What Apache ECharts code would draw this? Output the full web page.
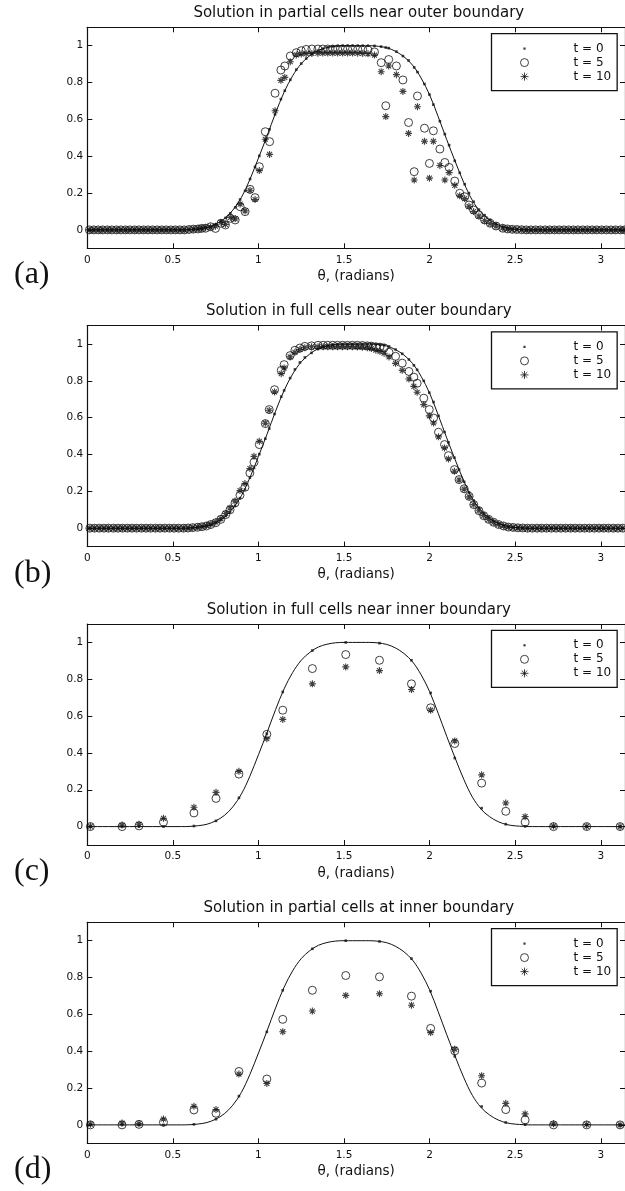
<!DOCTYPE html>
<html>
<head>
<meta charset="utf-8">
<script src="https://cdn.jsdelivr.net/npm/echarts@6/dist/echarts.min.js"></script>
<style>
  html, body { margin: 0; padding: 0; background: #fff; }
  #chart { width: 625px; height: 1191px; }
</style>
</head>
<body>
<div id="chart"></div>
<script>
// Panel headings and letters
const titles = [
  'Solution in partial cells near outer boundary',
  'Solution in full cells near outer boundary',
  'Solution in full cells near inner boundary',
  'Solution in partial cells at inner boundary'
];
const panelLetters = ['(a)', '(b)', '(c)', '(d)'];
const seriesNames = ['t = 0', 't = 5', 't = 10'];
const xTicks = [0, 0.5, 1, 1.5, 2, 2.5, 3];
const yTicks = [0, 0.2, 0.4, 0.6, 0.8, 1];
const xAxisTitle = 'θ, (radians)';

// Initial profile (solid curve)
const curveTheta = [0, 0.55, 0.60, 0.65, 0.70, 0.75, 0.80, 0.85, 0.90, 0.95, 1.00, 1.05, 1.10, 1.15, 1.20, 1.25, 1.30, 1.35, 1.40, 1.45, 1.50, 1.55, 1.60, 1.65, 1.70, 1.75, 1.80, 1.85, 1.90, 1.95, 2.00, 2.05, 2.10, 2.15, 2.20, 2.25, 2.30, 2.35, 2.40, 2.45, 2.50, 2.55, 2.60, 3.1416];
const curveValue = [0, 0, 0.001, 0.005, 0.013, 0.031, 0.06, 0.107, 0.176, 0.274, 0.39, 0.51, 0.635, 0.748, 0.837, 0.903, 0.946, 0.975, 0.99, 0.998, 1, 1, 1, 1, 0.997, 0.989, 0.97, 0.94, 0.895, 0.825, 0.733, 0.615, 0.49, 0.37, 0.256, 0.16, 0.095, 0.054, 0.027, 0.011, 0.004, 0.001, 0, 0];

// (a) partial cells near outer boundary
const thetaA = [
  0.012, 0.038, 0.064, 0.090, 0.117, 0.143, 0.170, 0.196, 0.223, 0.249, 0.276, 0.302, 0.329, 0.355, 0.382, 0.408, 0.435, 0.461, 0.488, 0.514, 0.541, 0.567, 0.594, 0.620, 0.647, 0.668,
  0.691, 0.720, 0.749, 0.781, 0.807, 0.836, 0.864, 0.893, 0.922, 0.951,
  0.980, 1.005, 1.040, 1.065, 1.097, 1.131, 1.154, 1.186, 1.221, 1.250,
  1.279, 1.312, 1.347, 1.376, 1.405, 1.434, 1.463, 1.492, 1.521, 1.550,
  1.580, 1.609, 1.640, 1.678, 1.717, 1.744, 1.761, 1.806, 1.844, 1.877,
  1.910, 1.929, 1.970, 1.999, 2.022, 2.060, 2.089, 2.114, 2.147, 2.176,
  2.205, 2.230, 2.257, 2.288, 2.321, 2.354, 2.388, 2.427, 2.455,
  2.483, 2.510, 2.538, 2.565, 2.592, 2.620, 2.647, 2.675, 2.702, 2.730, 2.757, 2.785, 2.812, 2.840, 2.867, 2.895, 2.922, 2.950, 2.977, 3.005, 3.032, 3.060, 3.087, 3.115, 3.140
];
const t0A = [
  0, 0, 0, 0, 0, 0, 0, 0, 0, 0, 0, 0, 0, 0, 0, 0, 0, 0, 0, 0, 0, 0, 0.001, 0.003, 0.005, 0.007,
  0.011, 0.018, 0.030, 0.047, 0.065, 0.090, 0.122, 0.165, 0.212, 0.276,
  0.342, 0.402, 0.486, 0.546, 0.627, 0.710, 0.756, 0.815, 0.870, 0.903,
  0.930, 0.954, 0.973, 0.984, 0.991, 0.996, 0.999, 1, 1, 1,
  1, 1, 1, 0.999, 0.995, 0.990, 0.987, 0.968, 0.944, 0.920,
  0.882, 0.857, 0.792, 0.735, 0.680, 0.590, 0.520, 0.460, 0.375, 0.310,
  0.248, 0.200, 0.153, 0.110, 0.080, 0.055, 0.033, 0.017, 0.010,
  0.005, 0.003, 0.001, 0, 0, 0, 0, 0, 0, 0, 0, 0, 0, 0, 0, 0, 0, 0, 0, 0, 0, 0, 0, 0, 0
];
const t5A = [
  0, 0, 0, 0, 0, 0, 0, 0, 0, 0, 0, 0, 0, 0, 0, 0, 0, 0, 0, 0, 0, 0, 0.002, 0.004, 0.005, 0.008,
  0.009, 0.017, 0.008, 0.036, 0.027, 0.063, 0.054, 0.126, 0.099, 0.220,
  0.175, 0.343, 0.533, 0.479, 0.742, 0.868, 0.890, 0.944, 0.962, 0.973,
  0.980, 0.982, 0.982, 0.982, 0.982, 0.982, 0.982, 0.982, 0.982, 0.982,
  0.981, 0.980, 0.977, 0.966, 0.908, 0.674, 0.925, 0.890, 0.814, 0.583,
  0.316, 0.727, 0.552, 0.361, 0.538, 0.439, 0.366, 0.339, 0.265, 0.199,
  0.180, 0.135, 0.108, 0.081, 0.054, 0.036, 0.021, 0.009, 0.005,
  0.003, 0.002, 0.001, 0, 0, 0, 0, 0, 0, 0, 0, 0, 0, 0, 0, 0, 0, 0, 0, 0, 0, 0, 0, 0, 0
];
const t10A = [
  0, 0, 0, 0, 0, 0, 0, 0, 0, 0, 0, 0, 0, 0, 0, 0, 0, 0, 0, 0, 0, 0, 0.002, 0.004, 0.006, 0.009,
  0.012, 0.015, 0.020, 0.040, 0.030, 0.068, 0.060, 0.140, 0.103, 0.215,
  0.165, 0.322, 0.492, 0.410, 0.647, 0.812, 0.828, 0.913, 0.950, 0.955,
  0.957, 0.958, 0.959, 0.960, 0.960, 0.960, 0.960, 0.960, 0.960, 0.960,
  0.959, 0.958, 0.956, 0.949, 0.859, 0.615, 0.890, 0.843, 0.752, 0.524,
  0.271, 0.669, 0.481, 0.281, 0.481, 0.350, 0.271, 0.311, 0.242, 0.185,
  0.170, 0.128, 0.100, 0.075, 0.050, 0.034, 0.020, 0.010, 0.005,
  0.003, 0.002, 0.001, 0, 0, 0, 0, 0, 0, 0, 0, 0, 0, 0, 0, 0, 0, 0, 0, 0, 0, 0, 0, 0, 0
];

// (b) full cells near outer boundary
const thetaB = [
  0.015, 0.042, 0.070, 0.097, 0.124, 0.152, 0.179, 0.206, 0.234, 0.261, 0.288, 0.316, 0.343, 0.370, 0.398, 0.425, 0.452, 0.480, 0.507, 0.534, 0.562, 0.589, 0.616, 0.644, 0.670, 0.696,
  0.722, 0.751, 0.780, 0.809, 0.834, 0.863, 0.892, 0.921, 0.950, 0.974,
  1.005, 1.040, 1.063, 1.094, 1.133, 1.150, 1.185, 1.213, 1.242, 1.271,
  1.310, 1.348, 1.378, 1.405, 1.434, 1.462, 1.491, 1.520, 1.549, 1.578,
  1.607, 1.636, 1.660, 1.686, 1.710, 1.734, 1.763, 1.801, 1.840, 1.879,
  1.908, 1.927, 1.966, 1.998, 2.023, 2.052, 2.087, 2.110, 2.145, 2.172,
  2.202, 2.231, 2.258, 2.288, 2.316, 2.345, 2.374, 2.403, 2.432, 2.460,
  2.488, 2.516, 2.544, 2.572, 2.600, 2.628, 2.655, 2.683, 2.711, 2.739, 2.767, 2.795, 2.823, 2.850, 2.878, 2.906, 2.934, 2.962, 2.990, 3.017, 3.045, 3.073, 3.100, 3.128
];
const t0B = [
  0, 0, 0, 0, 0, 0, 0, 0, 0, 0, 0, 0, 0, 0, 0, 0, 0, 0, 0, 0, 0, 0.001, 0.002, 0.004, 0.007, 0.011,
  0.018, 0.031, 0.046, 0.066, 0.088, 0.121, 0.163, 0.210, 0.274, 0.327,
  0.402, 0.486, 0.541, 0.620, 0.714, 0.748, 0.815, 0.862, 0.900, 0.927,
  0.952, 0.973, 0.984, 0.991, 0.996, 0.999, 1, 1, 1, 1,
  1, 1, 1, 0.998, 0.996, 0.993, 0.987, 0.970, 0.947, 0.916,
  0.884, 0.860, 0.800, 0.736, 0.685, 0.610, 0.522, 0.466, 0.383, 0.318,
  0.252, 0.194, 0.150, 0.110, 0.080, 0.058, 0.039, 0.026, 0.016, 0.009,
  0.005, 0.003, 0.001, 0, 0, 0, 0, 0, 0, 0, 0, 0, 0, 0, 0, 0, 0, 0, 0, 0, 0, 0, 0, 0
];
const t5B = [
  0, 0, 0, 0, 0, 0, 0, 0, 0, 0, 0, 0, 0, 0, 0, 0, 0, 0, 0, 0, 0, 0.001, 0.003, 0.005, 0.008, 0.012,
  0.020, 0.030, 0.048, 0.074, 0.100, 0.137, 0.179, 0.222, 0.300, 0.358,
  0.454, 0.568, 0.644, 0.752, 0.857, 0.888, 0.937, 0.966, 0.978, 0.987,
  0.990, 0.993, 0.993, 0.993, 0.993, 0.993, 0.993, 0.993, 0.993, 0.993,
  0.992, 0.990, 0.988, 0.985, 0.983, 0.979, 0.955, 0.933, 0.896, 0.851,
  0.820, 0.787, 0.706, 0.644, 0.598, 0.521, 0.454, 0.394, 0.318, 0.264,
  0.214, 0.173, 0.128, 0.095, 0.068, 0.048, 0.032, 0.020, 0.012, 0.006,
  0.004, 0.002, 0.001, 0, 0, 0, 0, 0, 0, 0, 0, 0, 0, 0, 0, 0, 0, 0, 0, 0, 0, 0, 0, 0
];
const t10B = [
  0, 0, 0, 0, 0, 0, 0, 0, 0, 0, 0, 0, 0, 0, 0, 0, 0, 0, 0, 0, 0, 0.001, 0.003, 0.006, 0.009, 0.014,
  0.022, 0.033, 0.052, 0.080, 0.110, 0.147, 0.204, 0.242, 0.324, 0.390,
  0.472, 0.570, 0.640, 0.740, 0.839, 0.870, 0.930, 0.955, 0.970, 0.980,
  0.985, 0.985, 0.985, 0.985, 0.985, 0.985, 0.985, 0.985, 0.985, 0.984,
  0.983, 0.980, 0.975, 0.966, 0.960, 0.950, 0.930, 0.895, 0.857, 0.810,
  0.770, 0.738, 0.671, 0.610, 0.571, 0.496, 0.436, 0.376, 0.309, 0.262,
  0.212, 0.170, 0.128, 0.095, 0.068, 0.048, 0.032, 0.020, 0.012, 0.006,
  0.004, 0.002, 0.001, 0, 0, 0, 0, 0, 0, 0, 0, 0, 0, 0, 0, 0, 0, 0, 0, 0, 0, 0, 0, 0
];

// (c) and (d) share the inner-boundary cell positions
const thetaInner = [0.018, 0.203, 0.302, 0.445, 0.623, 0.752, 0.886, 1.049, 1.142, 1.315, 1.510, 1.707, 1.894, 2.006, 2.147, 2.304, 2.445, 2.558, 2.724, 2.918, 3.113];
const t0Inner = [0, 0, 0, 0, 0.003, 0.031, 0.156, 0.505, 0.731, 0.956, 1, 0.996, 0.903, 0.726, 0.372, 0.1, 0.013, 0.001, 0, 0, 0];
const t5C = [0, 0, 0.004, 0.024, 0.074, 0.153, 0.285, 0.501, 0.632, 0.858, 0.934, 0.903, 0.775, 0.645, 0.451, 0.236, 0.083, 0.024, 0, 0, 0];
const t10C = [0.002, 0.008, 0.013, 0.045, 0.105, 0.186, 0.300, 0.477, 0.582, 0.775, 0.867, 0.847, 0.744, 0.632, 0.465, 0.281, 0.128, 0.054, 0.003, 0.001, 0];
const t5D = [0, 0, 0.003, 0.014, 0.081, 0.063, 0.290, 0.249, 0.573, 0.731, 0.811, 0.804, 0.699, 0.524, 0.402, 0.227, 0.083, 0.027, 0, 0, 0];
const t10D = [0.004, 0.010, 0.007, 0.032, 0.101, 0.083, 0.276, 0.225, 0.506, 0.618, 0.703, 0.712, 0.650, 0.501, 0.411, 0.267, 0.117, 0.060, 0.006, 0.002, 0];

const panels = [
  { theta: thetaA, t0: t0A, t5: t5A, t10: t10A },
  { theta: thetaB, t0: t0B, t5: t5B, t10: t10B },
  { theta: thetaInner, t0: t0Inner, t5: t5C, t10: t10C },
  { theta: thetaInner, t0: t0Inner, t5: t5D, t10: t10D }
];

// ---- layout ----
const panelOffset = [0, 298.3, 596.7, 895];
const plotLeft = 87.3, plotWidth = 543, plotTop = 27.3, plotHeight = 221;
const ink = '#111';
const sansFont = 'DejaVu Sans';
const asterisk = 'path://M5,0L5,10M0,5L10,5M1.5,1.5L8.5,8.5M1.5,8.5L8.5,1.5';
// small square centred in a wider (invisible) frame, used as the legend dot
const legendDot = 'path://M0,0L0,0M10,10L10,10M3.6,3.6L6.4,3.6L6.4,6.4L3.6,6.4Z';

const zip = (xs, ys) => xs.map((x, i) => [x, ys[i]]);
const fmt = v => String(Math.round(v * 10) / 10);

const grid = [], xAxis = [], yAxis = [], series = [], title = [], legend = [], graphic = [];

panels.forEach((p, i) => {
  const off = panelOffset[i];
  grid.push({ left: plotLeft, top: plotTop + off, width: plotWidth, height: plotHeight, show: false });

  const tickStyle = { show: true, inside: true, length: 5, lineStyle: { color: ink, width: 1 } };
  const lineStyle = { show: true, onZero: false, lineStyle: { color: ink, width: 1.2 } };

  xAxis.push({
    type: 'value', gridIndex: i, min: 0, max: Math.PI, position: 'bottom',
    axisLine: lineStyle,
    axisTick: Object.assign({ customValues: xTicks }, tickStyle),
    axisLabel: { customValues: xTicks, margin: 6, color: ink, fontFamily: sansFont, fontSize: 10.5, formatter: v => String(v) },
    splitLine: { show: false },
    name: xAxisTitle, nameLocation: 'middle', nameGap: 21,
    nameTextStyle: { color: ink, fontFamily: sansFont, fontSize: 13.5 }
  });
  xAxis.push({
    type: 'value', gridIndex: i, min: 0, max: Math.PI, position: 'top',
    axisLine: lineStyle,
    axisTick: Object.assign({ customValues: xTicks }, tickStyle),
    axisLabel: { show: false }, splitLine: { show: false }
  });
  yAxis.push({
    type: 'value', gridIndex: i, min: -0.1, max: 1.1, position: 'left',
    axisLine: lineStyle,
    axisTick: Object.assign({ customValues: yTicks }, tickStyle),
    axisLabel: { customValues: yTicks, margin: 4, color: ink, fontFamily: sansFont, fontSize: 10.5, formatter: fmt },
    splitLine: { show: false }
  });
  yAxis.push({
    type: 'value', gridIndex: i, min: -0.1, max: 1.1, position: 'right',
    axisLine: lineStyle,
    axisTick: Object.assign({ customValues: yTicks }, tickStyle),
    axisLabel: { show: false }, splitLine: { show: false }
  });

  const xi = 2 * i, yi = 2 * i;
  series.push({
    name: 'initial profile', type: 'line', xAxisIndex: xi, yAxisIndex: yi,
    data: zip(curveTheta, curveValue), showSymbol: false, smooth: 0.35,
    lineStyle: { color: ink, width: 1 }, silent: true, z: 1
  });
  series.push({
    name: seriesNames[0], type: 'scatter', xAxisIndex: xi, yAxisIndex: yi,
    data: zip(p.theta, p.t0), symbol: 'rect', symbolSize: 2.6,
    itemStyle: { color: ink }, silent: true, z: 2
  });
  series.push({
    name: seriesNames[1], type: 'scatter', xAxisIndex: xi, yAxisIndex: yi,
    data: zip(p.theta, p.t5), symbol: 'circle', symbolSize: 8,
    itemStyle: { color: 'rgba(0,0,0,0)', borderColor: ink, borderWidth: 1 }, silent: true, z: 3
  });
  series.push({
    name: seriesNames[2], type: 'scatter', xAxisIndex: xi, yAxisIndex: yi,
    data: zip(p.theta, p.t10), symbol: asterisk, symbolSize: 7,
    itemStyle: { color: 'rgba(0,0,0,0)', borderColor: ink, borderWidth: 1.1 }, silent: true, z: 4
  });

  title.push({
    text: titles[i], left: plotLeft + 271.5, top: 5.5 + off,
    textAlign: 'center', padding: 0,
    textStyle: { fontFamily: sansFont, fontSize: 15, fontWeight: 'normal', color: ink }
  });

  legend.push({
    orient: 'vertical', left: 491.5, top: plotTop + off + 6.3,
    padding: [8, 6, 7, 28.5], itemGap: 0, itemWidth: 8, itemHeight: 8,
    selectedMode: false, backgroundColor: '#fff',
    borderColor: ink, borderWidth: 1.3,
    textStyle: { fontFamily: sansFont, fontSize: 12, lineHeight: 14, color: ink, padding: [0, 0, 0, 40] },
    data: [
      { name: seriesNames[0], icon: legendDot, itemStyle: { color: ink, borderWidth: 0 } },
      { name: seriesNames[1], itemStyle: { borderWidth: 1 } },
      { name: seriesNames[2], itemStyle: { borderWidth: 1 } }
    ]
  });

  graphic.push({
    type: 'text', left: 14, top: 259 + off, silent: true,
    style: { text: panelLetters[i], font: '32px "Liberation Serif"', fill: ink }
  });
});

const chart = echarts.init(document.getElementById('chart'), null, { renderer: 'canvas' });
chart.setOption({
  animation: false,
  backgroundColor: '#fff',
  title, legend, grid, xAxis, yAxis, series, graphic
});
</script>
</body>
</html>
